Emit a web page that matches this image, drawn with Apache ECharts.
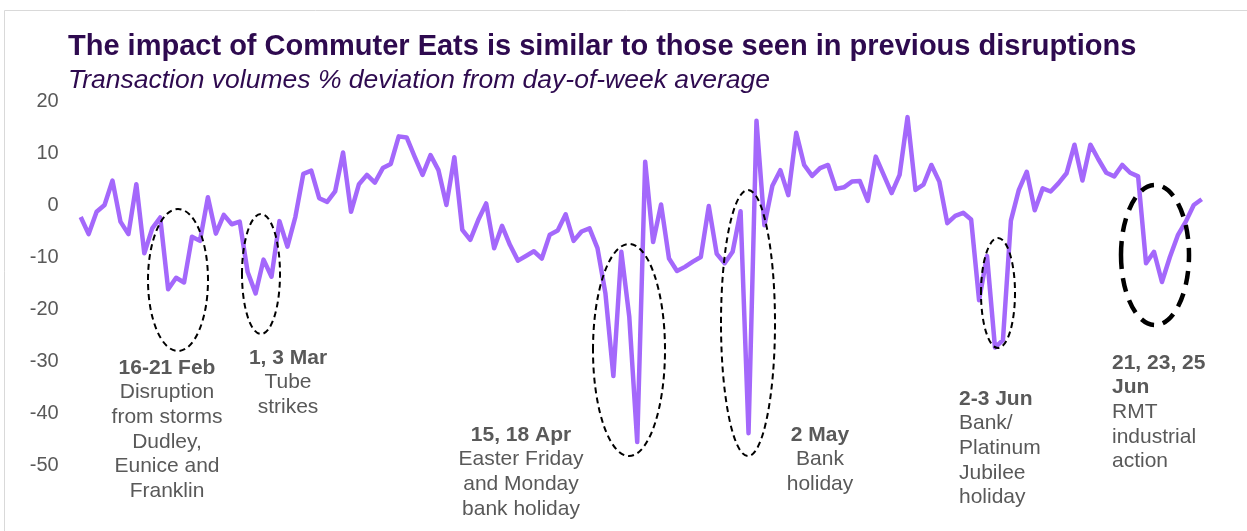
<!DOCTYPE html>
<html>
<head>
<meta charset="utf-8">
<script src="https://cdn.jsdelivr.net/npm/echarts@6/dist/echarts.min.js"></script>
<style>
  html, body { margin: 0; padding: 0; background: #fff; }
  #chart { width: 1247px; height: 531px; }
</style>
</head>
<body>
<div id="chart"></div>
<script>
// daily points, 7 Feb to 28 Jun 2022
const startDate = '2022-02-07'
const dayCount = 142

const deviation = [
  -2.3, -5.6, -1.3, 0.0, 4.7, -3.2, -5.6, 4.0, -9.3, -4.5,
  -2.4, -16.2, -14.0, -14.9, -6.1, -6.9, 1.5, -5.5, -1.9, -3.7,
  -3.2, -12.9, -17.0, -10.5, -13.8, -3.1, -8.0, -2.3, 6.0, 6.6,
  1.3, 0.6, 2.6, 10.1, -1.3, 4.0, 5.8, 4.3, 7.1, 7.9,
  13.2, 13.0, 9.3, 5.8, 9.6, 6.7, 0.0, 9.2, -4.8, -6.7,
  -2.9, 0.3, -8.3, -4.0, -7.7, -10.7, -9.8, -8.9, -10.3, -5.7,
  -4.9, -1.8, -6.9, -5.1, -4.5, -8.3, -17.0, -32.9, -9.0, -21.5,
  -45.6, 8.3, -7.1, 0.1, -10.3, -12.7, -11.9, -10.9, -10.0, -0.2,
  -9.4, -11.2, -9.0, -1.2, -43.9, 16.2, -3.9, 3.7, 6.7, 1.9,
  13.9, 7.7, 5.6, 7.1, 7.7, 3.1, 3.4, 4.5, 4.6, 0.8,
  9.3, 5.8, 2.3, 5.8, 16.9, 2.9, 3.9, 7.7, 4.5, -3.5,
  -2.1, -1.5, -2.8, -18.3, -9.8, -27.4, -26.0, -3.0, 2.9, 6.4,
  -1.0, 3.2, 2.6, 4.2, 6.1, 11.6, 4.7, 11.6, 8.8, 6.2,
  5.5, 7.7, 6.2, 5.5, -11.2, -9.0, -14.8, -10.0, -5.8, -3.2,
  0.0, 1.1
]

const yTicks = { min: -50, max: 20, interval: 10 }

// annotation labels: bold heading + body lines
const notes = [
  { head: ['16-21 Feb'], body: ['Disruption', 'from storms', 'Dudley,', 'Eunice and', 'Franklin'] },
  { head: ['1, 3 Mar'], body: ['Tube', 'strikes'] },
  { head: ['15, 18 Apr'], body: ['Easter Friday', 'and Monday', 'bank holiday'] },
  { head: ['2 May'], body: ['Bank', 'holiday'] },
  { head: ['2-3 Jun'], body: ['Bank/', 'Platinum', 'Jubilee', 'holiday'] },
  { head: ['21, 23, 25', 'Jun'], body: ['RMT', 'industrial', 'action'] }
]

const noteLayout = [
  { x: 167, y: 368, align: 'center' },
  { x: 288, y: 358, align: 'center' },
  { x: 521, y: 435, align: 'center' },
  { x: 820, y: 435, align: 'center' },
  { x: 959, y: 399, align: 'left' },
  { x: 1112, y: 363, align: 'left' }
]

const rings = [
  { cx: 178, cy: 280, rx: 30, ry: 71, w: 2, dash: [6, 4] },
  { cx: 261, cy: 274, rx: 19, ry: 60, w: 2, dash: [6, 4] },
  { cx: 629, cy: 350, rx: 36, ry: 106, w: 2, dash: [6, 4] },
  { cx: 748, cy: 323, rx: 27, ry: 133, w: 2, dash: [6, 4] },
  { cx: 998, cy: 293, rx: 17, ry: 55, w: 2, dash: [6, 4] },
  { cx: 1155, cy: 255, rx: 34, ry: 70, w: 4.5, dash: [14, 9] }
]

const days = []
const d0 = new Date(startDate + 'T00:00:00Z')
for (let i = 0; i < dayCount; i++) {
  const d = new Date(d0.getTime() + i * 86400000)
  days.push(d.toISOString().slice(0, 10))
}

const FONT = 'Arial, "Liberation Sans", sans-serif'
const grey = '#595959'
const lineGap = 24.6

const graphics = [
  {
    type: 'rect', silent: true, z: 0,
    shape: { x: 4.5, y: 10.5, width: 1300, height: 600 },
    style: { fill: 'none', stroke: '#d9d9d9', lineWidth: 1 }
  }
]

rings.forEach(r => {
  graphics.push({
    type: 'ellipse', silent: true, z: 10,
    shape: { cx: r.cx, cy: r.cy, rx: r.rx, ry: r.ry },
    style: { fill: 'none', stroke: '#000', lineWidth: r.w, lineDash: r.dash }
  })
})

notes.forEach((n, k) => {
  const pos = noteLayout[k]
  const lines = n.head.map(t => ({ t, bold: true })).concat(n.body.map(t => ({ t, bold: false })))
  lines.forEach((ln, j) => {
    graphics.push({
      type: 'text', silent: true, z: 10,
      style: {
        text: ln.t,
        x: pos.x,
        y: pos.y + j * lineGap,
        textAlign: pos.align,
        textVerticalAlign: 'middle',
        fill: grey,
        font: (ln.bold ? 'bold ' : '') + '21px ' + FONT
      }
    })
  })
})

const chart = echarts.init(document.getElementById('chart'))
chart.setOption({
  animation: false,
  backgroundColor: '#fff',
  title: [
    {
      text: 'The impact of Commuter Eats is similar to those seen in previous disruptions',
      left: 63, top: 27,
      textStyle: { color: '#2e0a4f', fontSize: 29, fontWeight: 'bold', fontFamily: FONT }
    },
    {
      text: 'Transaction volumes % deviation from day-of-week average',
      left: 63, top: 62,
      textStyle: { color: '#2e0a4f', fontSize: 26.5, fontWeight: 'normal', fontStyle: 'italic', fontFamily: FONT }
    }
  ],
  grid: { left: 80.7, right: 45.3, top: 101, bottom: 66, containLabel: false },
  xAxis: {
    type: 'category',
    data: days,
    boundaryGap: false,
    axisLine: { show: false },
    axisTick: { show: false },
    axisLabel: { show: false },
    splitLine: { show: false }
  },
  yAxis: {
    type: 'value',
    min: yTicks.min,
    max: yTicks.max,
    interval: yTicks.interval,
    axisLine: { show: false },
    axisTick: { show: false },
    splitLine: { show: false },
    axisLabel: { color: grey, fontSize: 20, fontFamily: FONT, margin: 22 }
  },
  series: [
    {
      type: 'line',
      data: deviation,
      showSymbol: false,
      lineStyle: { color: '#a468fb', width: 4.5, join: 'round' },
      z: 5
    }
  ],
  graphic: graphics
})
</script>
</body>
</html>
